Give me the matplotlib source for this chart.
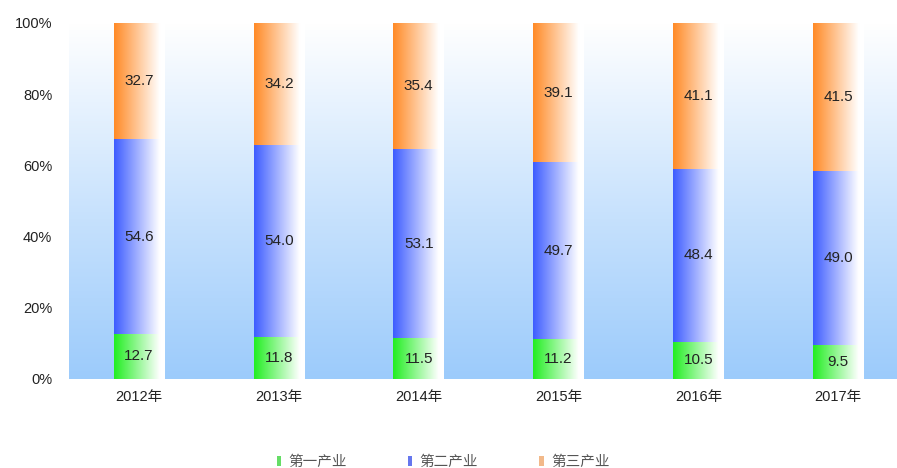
import numpy as np
import matplotlib
matplotlib.use("Agg")
import matplotlib.pyplot as plt
from matplotlib.colors import LinearSegmentedColormap
from matplotlib.patches import Patch
from matplotlib.ticker import FuncFormatter

plt.rcParams['font.family'] = ['Liberation Sans', 'Noto Sans CJK SC', 'DejaVu Sans']

years = ['2012年', '2013年', '2014年', '2015年', '2016年', '2017年']
series_names = ['第一产业', '第二产业', '第三产业']
primary = [12.7, 11.8, 11.5, 11.2, 10.5, 9.5]
secondary = [54.6, 54.0, 53.1, 49.7, 48.4, 49.0]
tertiary = [32.7, 34.2, 35.4, 39.1, 41.1, 41.5]
yticks = [0, 20, 40, 60, 80, 100]

colors = ['#22EE22', '#3D5CFF', '#FF8A26']
legend_colors = ['#66DD66', '#6677EE', '#F2B98A']

fig = plt.figure(figsize=(8.97, 4.68), dpi=100)
ax = fig.add_axes([69/897, 89/468, 828/897, 356/468])
for s in ax.spines.values():
    s.set_visible(False)

x = np.arange(len(years))

# background gradient
bg = LinearSegmentedColormap.from_list('bg', [(0, '#9CCBFB'), (0.45, '#C6E1FD'), (1, '#FFFFFF')])
grad = np.linspace(0, 1, 256).reshape(-1, 1)
ax.imshow(grad, cmap=bg, aspect='auto', extent=[0, 1, 0, 1], transform=ax.transAxes,
          origin='lower', zorder=0)

hgrad = np.linspace(0, 1, 256).reshape(1, -1)
bottom = np.zeros(len(years))
for vals, col in zip([primary, secondary, tertiary], colors):
    bars = ax.bar(x, vals, width=0.36, bottom=bottom, facecolor='none', edgecolor='none', zorder=2)
    cmap = LinearSegmentedColormap.from_list('g', [(0, col), (0.9, '#FFFFFF'), (1, '#FFFFFF')])
    for b, v in zip(bars, vals):
        x0, y0 = b.get_x(), b.get_y()
        w, h = b.get_width(), b.get_height()
        im = ax.imshow(hgrad, cmap=cmap, aspect='auto', extent=[x0, x0 + w, y0, y0 + h],
                       zorder=2, interpolation='bilinear')
        im.set_clip_path(b)
        ax.text(x0 + w / 2, y0 + h / 2, f'{v:.1f}', ha='center', va='center',
                fontsize=11, color='#222222', zorder=3)
    bottom = bottom + np.array(vals)

ax.set_xlim(-0.5, 5.42)
ax.set_ylim(0, 100)
ax.set_xticks(x)
ax.set_xticklabels(years, fontsize=10.5, color='#222222')
ax.set_yticks(yticks)
ax.yaxis.set_major_formatter(FuncFormatter(lambda v, p: f'{v:.0f}%'))
ax.tick_params(axis='both', length=0, labelsize=10.5, labelcolor='#222222')
ax.tick_params(axis='y', pad=12)
ax.tick_params(axis='x', pad=8)

handles = [Patch(facecolor=c, edgecolor='none') for c in legend_colors]
fig.legend(handles, series_names, loc='center', bbox_to_anchor=(443/897, 1 - 462/468),
           ncol=3, frameon=False, fontsize=10.5, handlelength=0.3, handleheight=0.7,
           handletextpad=0.5, columnspacing=4.2, labelcolor='#555555')

fig.savefig('out.png', dpi=100)
